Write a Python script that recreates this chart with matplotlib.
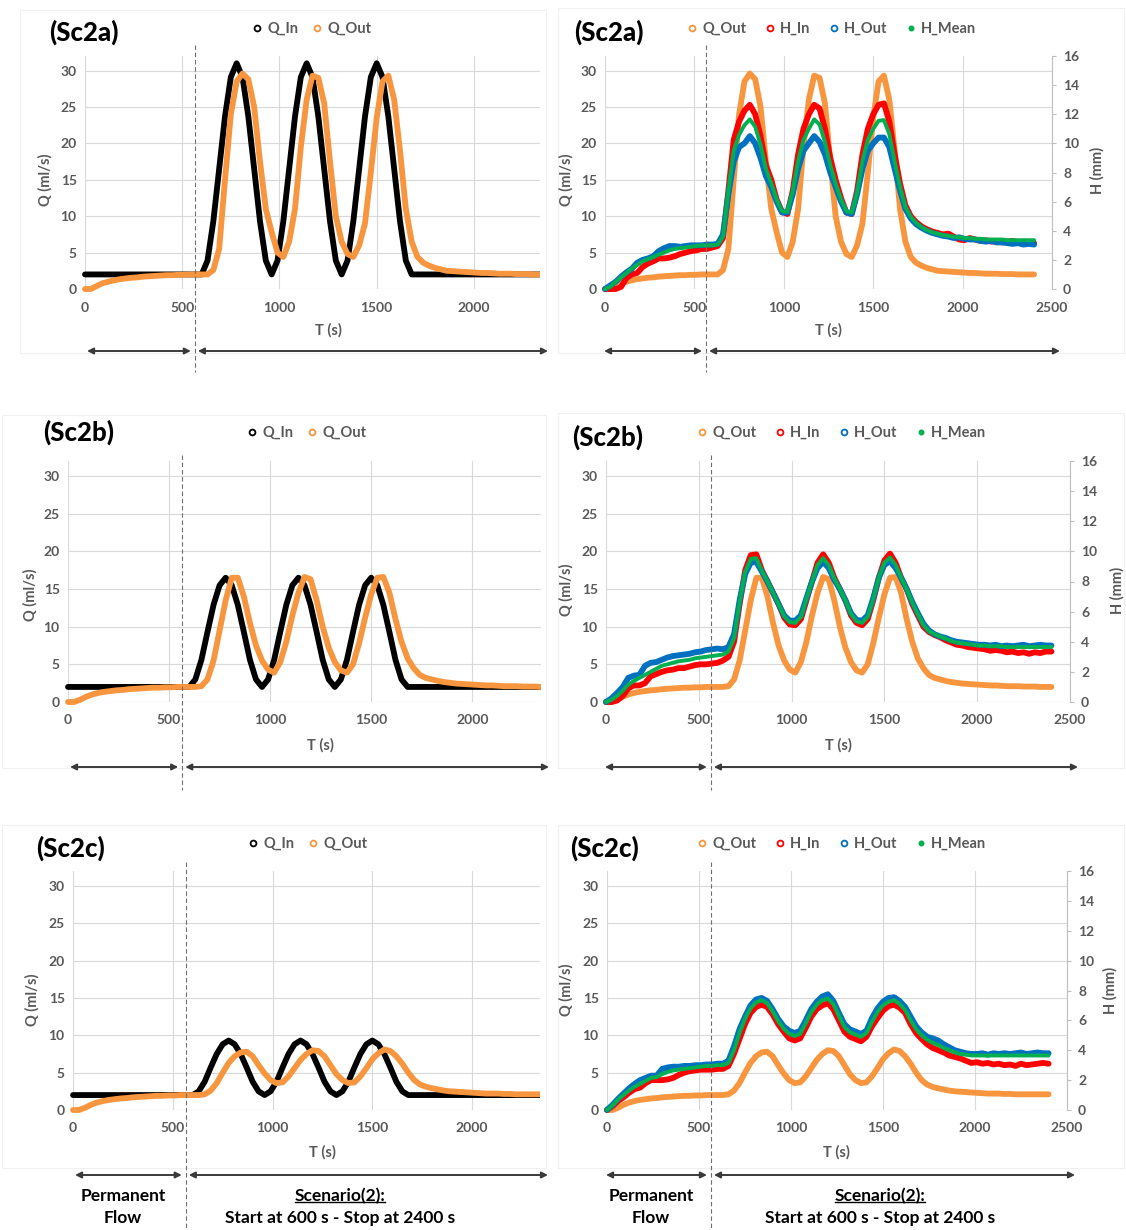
import numpy as np
import matplotlib.pyplot as plt
from matplotlib.lines import Line2D
from matplotlib.patches import Rectangle, FancyArrowPatch
from matplotlib.transforms import Bbox, TransformedBbox

plt.rcParams['font.family'] = ['Lato', 'DejaVu Sans']
plt.rcParams['font.weight'] = 'bold'

W, H = 1126, 1230
GREY = '#595959'
GRID = '#d9d9d9'
C_QIN = 'black'
C_QOUT = '#f7963f'
C_HIN = '#ff0000'
C_HOUT = '#0070c0'
C_HMEAN = '#00b050'

# time of each reading (s), one every 30 s from 0 to 2400
T = np.arange(0, 2401, 30)
DIVIDER_T = 565   # dashed line between permanent flow and scenario

SCENARIOS = ['(Sc2a)', '(Sc2b)', '(Sc2c)']

# ---- inflow Q_In (ml/s) ----
Q_IN_A = [2.0, 2.0, 2.0, 2.0, 2.0, 2.0, 2.0, 2.0, 2.0, 2.0,
          2.0, 2.0, 2.0, 2.0, 2.0, 2.0, 2.0, 2.0, 2.0, 2.0,
          2.0, 3.9, 9.3, 16.5, 23.7, 29.1, 31.0, 29.1, 23.7, 16.5,
          9.3, 3.9, 2.0, 3.9, 9.3, 16.5, 23.7, 29.1, 31.0, 29.1,
          23.7, 16.5, 9.3, 3.9, 2.0, 3.9, 9.3, 16.5, 23.7, 29.1,
          31.0, 29.1, 23.7, 16.5, 9.3, 3.9, 2.0, 2.0, 2.0, 2.0,
          2.0, 2.0, 2.0, 2.0, 2.0, 2.0, 2.0, 2.0, 2.0, 2.0,
          2.0, 2.0, 2.0, 2.0, 2.0, 2.0, 2.0, 2.0, 2.0, 2.0,
          2.0]
Q_IN_B = [2.0, 2.0, 2.0, 2.0, 2.0, 2.0, 2.0, 2.0, 2.0, 2.0,
          2.0, 2.0, 2.0, 2.0, 2.0, 2.0, 2.0, 2.0, 2.0, 2.0,
          2.0, 3.0, 5.6, 9.3, 12.9, 15.5, 16.5, 15.5, 12.9, 9.3,
          5.6, 3.0, 2.0, 3.0, 5.6, 9.3, 12.9, 15.5, 16.5, 15.5,
          12.9, 9.3, 5.6, 3.0, 2.0, 3.0, 5.6, 9.3, 12.9, 15.5,
          16.5, 15.5, 12.9, 9.3, 5.6, 3.0, 2.0, 2.0, 2.0, 2.0,
          2.0, 2.0, 2.0, 2.0, 2.0, 2.0, 2.0, 2.0, 2.0, 2.0,
          2.0, 2.0, 2.0, 2.0, 2.0, 2.0, 2.0, 2.0, 2.0, 2.0,
          2.0]
Q_IN_C = [2.0, 2.0, 2.0, 2.0, 2.0, 2.0, 2.0, 2.0, 2.0, 2.0,
          2.0, 2.0, 2.0, 2.0, 2.0, 2.0, 2.0, 2.0, 2.0, 2.0,
          2.0, 2.5, 3.8, 5.7, 7.5, 8.8, 9.3, 8.8, 7.5, 5.7,
          3.8, 2.5, 2.0, 2.5, 3.8, 5.7, 7.5, 8.8, 9.3, 8.8,
          7.5, 5.7, 3.8, 2.5, 2.0, 2.5, 3.8, 5.7, 7.5, 8.8,
          9.3, 8.8, 7.5, 5.7, 3.8, 2.5, 2.0, 2.0, 2.0, 2.0,
          2.0, 2.0, 2.0, 2.0, 2.0, 2.0, 2.0, 2.0, 2.0, 2.0,
          2.0, 2.0, 2.0, 2.0, 2.0, 2.0, 2.0, 2.0, 2.0, 2.0,
          2.0]

# ---- outflow Q_Out (ml/s) ----
Q_OUT_A = [0.0, 0.0, 0.4, 0.8, 1.0, 1.2, 1.35, 1.45, 1.55, 1.6,
           1.7, 1.75, 1.8, 1.85, 1.9, 1.9, 1.95, 1.95, 2.0, 2.0,
           2.0, 2.0, 2.6, 5.5, 15.0, 24.0, 28.5, 29.6, 28.8, 25.0,
           17.5, 11.0, 7.8, 5.0, 4.4, 6.5, 11.0, 19.5, 26.0, 29.3,
           29.0, 25.5, 17.5, 10.0, 6.5, 4.8, 4.4, 6.0, 9.0, 16.0,
           23.5, 28.5, 29.3, 26.0, 19.0, 11.0, 6.5, 4.4, 3.6, 3.2,
           2.9, 2.7, 2.5, 2.45, 2.4, 2.35, 2.3, 2.25, 2.2, 2.2,
           2.15, 2.1, 2.1, 2.1, 2.05, 2.05, 2.05, 2.0, 2.0, 2.0,
           2.0]
Q_OUT_B = [0.0, 0.0, 0.3, 0.7, 1.0, 1.2, 1.35, 1.45, 1.55, 1.6,
           1.7, 1.75, 1.8, 1.85, 1.9, 1.9, 1.95, 1.95, 2.0, 2.0,
           2.0, 2.0, 2.1, 3.0, 5.5, 9.5, 13.5, 16.5, 16.5, 14.0,
           10.5, 7.5, 5.5, 4.3, 3.9, 5.3, 8.0, 11.5, 14.5, 16.6,
           16.3, 13.5, 10.0, 7.2, 5.3, 4.2, 3.9, 5.0, 7.8, 11.2,
           14.3, 16.5, 16.6, 14.5, 11.0, 8.0, 5.8, 4.5, 3.6, 3.2,
           3.0, 2.8, 2.65, 2.55, 2.45, 2.4, 2.35, 2.3, 2.25, 2.2,
           2.2, 2.15, 2.1, 2.1, 2.1, 2.05, 2.05, 2.05, 2.0, 2.0,
           2.0]
Q_OUT_C = [0.0, 0.0, 0.3, 0.7, 1.0, 1.2, 1.35, 1.45, 1.55, 1.6,
           1.7, 1.75, 1.8, 1.85, 1.9, 1.9, 1.95, 1.95, 2.0, 2.0,
           2.0, 2.0, 2.1, 2.6, 3.6, 5.0, 6.3, 7.2, 7.7, 7.8,
           7.2, 6.0, 4.9, 4.0, 3.6, 3.7, 4.5, 5.6, 6.7, 7.5,
           8.0, 7.9, 7.2, 6.0, 4.8, 4.0, 3.6, 3.7, 4.5, 5.6,
           6.8, 7.6, 8.1, 7.9, 7.2, 6.2, 5.0, 4.0, 3.4, 3.1,
           2.9, 2.75, 2.6, 2.5, 2.45, 2.4, 2.35, 2.3, 2.25, 2.2,
           2.2, 2.2, 2.15, 2.15, 2.1, 2.1, 2.1, 2.1, 2.1, 2.1,
           2.1]

# ---- water depth H (mm) ----
H_IN_A = [0.0, 0.0, 0.0, 0.15, 0.75, 1.0, 1.1, 1.5, 1.75, 1.9,
          2.1, 2.1, 2.15, 2.25, 2.4, 2.5, 2.6, 2.65, 2.75, 2.75,
          2.85, 2.95, 3.5, 6.75, 10.25, 11.5, 12.25, 12.65, 12.0, 10.5,
          8.5, 7.5, 6.15, 5.3, 5.15, 6.75, 9.25, 11.0, 12.0, 12.65,
          12.4, 11.0, 9.0, 7.5, 6.25, 5.25, 5.15, 6.75, 9.25, 11.0,
          12.0, 12.65, 12.75, 11.5, 9.25, 7.25, 5.75, 5.0, 4.6, 4.3,
          4.1, 3.95, 3.85, 3.75, 3.8, 3.6, 3.4, 3.35, 3.5, 3.4,
          3.3, 3.35, 3.25, 3.3, 3.2, 3.25, 3.3, 3.2, 3.25, 3.2,
          3.15]
H_OUT_A = [0.0, 0.25, 0.5, 0.85, 1.15, 1.4, 1.8, 2.0, 2.1, 2.25,
           2.6, 2.8, 2.95, 2.95, 2.9, 2.95, 3.0, 3.0, 3.0, 3.05,
           3.05, 3.1, 3.75, 6.5, 8.75, 9.75, 10.0, 10.5, 10.0, 9.0,
           7.75, 7.0, 6.0, 5.25, 5.25, 6.5, 8.25, 9.5, 10.0, 10.5,
           10.1, 9.25, 8.0, 7.0, 6.0, 5.25, 5.15, 6.5, 8.25, 9.5,
           10.0, 10.4, 10.4, 9.75, 8.25, 6.75, 5.5, 4.85, 4.45, 4.2,
           4.0, 3.85, 3.75, 3.65, 3.6, 3.5, 3.55, 3.45, 3.4, 3.4,
           3.3, 3.25, 3.3, 3.2, 3.2, 3.15, 3.1, 3.15, 3.05, 3.1,
           3.05]
H_MEAN_A = [0.0, 0.15, 0.5, 0.8, 1.1, 1.4, 1.65, 1.9, 2.05, 2.2,
            2.35, 2.5, 2.65, 2.75, 2.8, 2.85, 2.9, 2.95, 3.0, 3.0,
            3.0, 3.05, 3.6, 6.75, 9.5, 10.6, 11.25, 11.65, 11.15, 9.9,
            8.25, 7.25, 6.15, 5.35, 5.3, 6.75, 8.8, 10.25, 11.0, 11.65,
            11.3, 10.1, 8.5, 7.25, 6.15, 5.35, 5.25, 6.6, 8.8, 10.25,
            11.0, 11.55, 11.6, 10.65, 8.75, 7.0, 5.65, 4.95, 4.55, 4.25,
            4.05, 3.9, 3.8, 3.7, 3.65, 3.6, 3.55, 3.5, 3.5, 3.45,
            3.45, 3.4, 3.4, 3.4, 3.4, 3.35, 3.35, 3.35, 3.35, 3.35,
            3.35]

H_IN_B = [0.0, 0.0, 0.1, 0.4, 0.9, 1.1, 1.1, 1.25, 1.7, 1.85,
          2.0, 2.1, 2.15, 2.25, 2.25, 2.35, 2.45, 2.5, 2.5, 2.55,
          2.6, 2.75, 3.0, 4.0, 6.5, 8.75, 9.75, 9.8, 8.75, 8.0,
          7.25, 6.5, 5.6, 5.15, 5.1, 5.5, 6.75, 8.0, 9.25, 9.8,
          9.25, 8.25, 7.5, 6.75, 5.75, 5.25, 5.1, 5.5, 6.75, 8.25,
          9.4, 9.85, 9.25, 8.25, 7.5, 6.5, 5.75, 5.0, 4.65, 4.45,
          4.3, 4.1, 3.95, 3.8, 3.75, 3.65, 3.6, 3.55, 3.5, 3.4,
          3.45, 3.4, 3.3, 3.35, 3.25, 3.3, 3.2, 3.3, 3.25, 3.35,
          3.35]
H_OUT_B = [0.0, 0.25, 0.6, 1.0, 1.6, 1.75, 1.8, 2.4, 2.6, 2.65,
           2.8, 2.95, 3.05, 3.1, 3.15, 3.2, 3.3, 3.35, 3.45, 3.5,
           3.55, 3.5, 3.65, 4.5, 6.75, 8.5, 9.25, 9.3, 8.65, 8.0,
           7.25, 6.5, 5.75, 5.4, 5.4, 5.75, 6.9, 8.0, 8.9, 9.3,
           8.9, 8.1, 7.5, 6.75, 5.9, 5.45, 5.4, 5.75, 6.9, 8.25,
           9.1, 9.35, 8.9, 8.25, 7.5, 6.65, 5.9, 5.2, 4.75, 4.5,
           4.35, 4.25, 4.1, 4.0, 3.95, 3.9, 3.85, 3.8, 3.8, 3.75,
           3.8, 3.7, 3.75, 3.7, 3.75, 3.8, 3.7, 3.75, 3.8, 3.75,
           3.75]
H_MEAN_B = [0.0, 0.15, 0.4, 0.75, 1.15, 1.4, 1.6, 1.8, 2.0, 2.2,
            2.4, 2.5, 2.6, 2.7, 2.75, 2.8, 2.9, 2.95, 3.0, 3.05,
            3.1, 3.15, 3.35, 4.25, 6.65, 8.65, 9.5, 9.55, 8.7, 8.0,
            7.25, 6.5, 5.7, 5.3, 5.25, 5.65, 6.85, 8.0, 9.1, 9.55,
            9.1, 8.2, 7.5, 6.75, 5.85, 5.35, 5.25, 5.65, 6.85, 8.25,
            9.25, 9.6, 9.1, 8.25, 7.5, 6.6, 5.85, 5.1, 4.7, 4.5,
            4.35, 4.2, 4.05, 3.95, 3.9, 3.85, 3.8, 3.75, 3.75, 3.7,
            3.7, 3.7, 3.65, 3.65, 3.65, 3.65, 3.65, 3.65, 3.65, 3.65,
            3.65]

H_IN_C = [0.0, 0.25, 0.6, 0.85, 1.15, 1.4, 1.5, 1.8, 2.0, 2.0,
          2.0, 2.05, 2.15, 2.35, 2.5, 2.6, 2.65, 2.7, 2.7, 2.7,
          2.75, 2.75, 2.95, 3.75, 4.75, 5.75, 6.5, 6.9, 7.05, 6.9,
          6.4, 5.75, 5.25, 4.8, 4.65, 4.8, 5.5, 6.25, 6.75, 7.0,
          7.15, 6.75, 6.0, 5.25, 4.9, 4.75, 4.6, 4.9, 5.6, 6.15,
          6.65, 6.95, 7.05, 6.85, 6.5, 5.75, 5.15, 4.75, 4.4, 4.15,
          4.0, 3.85, 3.65, 3.55, 3.45, 3.3, 3.15, 3.2, 3.1, 3.15,
          3.05, 3.1, 3.0, 3.05, 2.95, 3.1, 3.0, 3.05, 3.1, 3.15,
          3.1]
H_OUT_C = [0.0, 0.35, 0.75, 1.1, 1.45, 1.75, 2.0, 2.15, 2.3, 2.3,
           2.75, 2.85, 2.9, 2.9, 2.95, 2.95, 3.0, 3.0, 3.05, 3.05,
           3.1, 3.1, 3.3, 4.25, 5.4, 6.25, 7.0, 7.4, 7.5, 7.3,
           6.75, 6.1, 5.6, 5.3, 5.15, 5.3, 6.0, 6.75, 7.25, 7.6,
           7.75, 7.3, 6.5, 5.75, 5.4, 5.25, 5.1, 5.3, 6.15, 6.8,
           7.25, 7.5, 7.55, 7.3, 6.9, 6.25, 5.6, 5.2, 4.9, 4.8,
           4.65, 4.4, 4.2, 4.0, 3.9, 3.8, 3.75, 3.75, 3.8, 3.7,
           3.8, 3.75, 3.8, 3.75, 3.8, 3.85, 3.75, 3.8, 3.85, 3.8,
           3.8]
H_MEAN_C = [0.0, 0.3, 0.7, 1.0, 1.3, 1.55, 1.75, 1.95, 2.15, 2.2,
            2.4, 2.55, 2.65, 2.7, 2.75, 2.8, 2.85, 2.9, 2.95, 2.95,
            3.0, 3.0, 3.15, 4.0, 5.15, 6.1, 6.8, 7.2, 7.35, 7.15,
            6.6, 5.95, 5.45, 5.1, 4.95, 5.1, 5.8, 6.55, 7.05, 7.35,
            7.45, 7.1, 6.3, 5.55, 5.2, 5.05, 4.9, 5.15, 5.9, 6.55,
            7.0, 7.25, 7.35, 7.1, 6.7, 6.0, 5.4, 5.0, 4.7, 4.5,
            4.35, 4.15, 4.0, 3.85, 3.75, 3.7, 3.65, 3.65, 3.65, 3.65,
            3.65, 3.65, 3.65, 3.65, 3.65, 3.65, 3.65, 3.65, 3.65, 3.65,
            3.65]

Q_IN = [Q_IN_A, Q_IN_B, Q_IN_C]
Q_OUT = [Q_OUT_A, Q_OUT_B, Q_OUT_C]
H_IN = [H_IN_A, H_IN_B, H_IN_C]
H_OUT = [H_OUT_A, H_OUT_B, H_OUT_C]
H_MEAN = [H_MEAN_A, H_MEAN_B, H_MEAN_C]

# ---- layout, in pixels of the 1126x1230 picture ----
L_BOX = [(85, 56, 540, 289), (68, 461, 541, 702), (73, 871, 540, 1110)]
R_BOX = [(605, 56, 1052, 289), (606, 461, 1070, 702), (607, 871, 1067, 1110)]
TITLE_L = [(49, 32), (43, 432), (36, 848)]
TITLE_R = [(574, 32), (572, 437), (570, 848)]
LEG_L = [(312, 29), (307, 433), (308, 844)]
LEG_R = [(832, 29), (842, 433), (842, 844)]
QLAB_L = [(45, 180), (30, 595), (32, 1000)]
QLAB_R = [(566, 180), (566, 590), (566, 990)]
HLAB = [(1097, 170), (1117, 590), (1110, 990)]
TLAB_L = [(328, 330), (320, 745), (322, 1152)]
TLAB_R = [(828, 330), (838, 745), (836, 1152)]
ARROW_Y = [351, 767, 1175]
DIV_SPAN = [(45, 372), (455, 790), (862, 1230)]
FRAME_L = [(20, 10, 546, 353), (2, 415, 546, 768), (2, 825, 546, 1168)]
FRAME_R = [(558, 8, 1124, 353), (558, 413, 1124, 768), (558, 825, 1124, 1168)]

TICK_FS = 10
LABEL_FS = 10.5


def fx(x):
    return x / W


def fy(y):
    return 1 - y / H


fig = plt.figure(figsize=(W / 100, H / 100), dpi=100)


def px_axes(box):
    x0, y0, x1, y1 = box
    return fig.add_axes([fx(x0), fy(y1), (x1 - x0) / W, (y1 - y0) / H])


def style_q_axis(ax, xmax, xticks):
    ax.set_xlim(0, xmax)
    ax.set_ylim(0, 32)
    ax.set_xticks(xticks)
    ax.set_yticks(range(0, 31, 5))
    ax.grid(True, color=GRID, lw=0.8)
    ax.set_axisbelow(True)
    for s in ax.spines.values():
        s.set_visible(False)
    ax.tick_params(axis='x', length=0, pad=9, labelsize=TICK_FS, labelcolor=GREY)
    ax.tick_params(axis='y', length=0, pad=6, labelsize=TICK_FS, labelcolor=GREY)


def draw(ax, y, color, lw):
    ln, = ax.plot(T, y, color=color, lw=lw, solid_joinstyle='round',
                  solid_capstyle='round')
    # let the thick line spill a little below 0, but stop at the right edge
    ln.set_clip_path(None)
    ln.set_clip_box(TransformedBbox(Bbox([[-0.02, -0.04], [1.0, 1.04]]), ax.transAxes))
    return ln


def handle(color, filled=False, ms=4.2):
    return Line2D([], [], ls='none', marker='o', ms=ms, mew=1.3, mec=color,
                  mfc=color if filled else 'white')


def divider(ax, span):
    xd = fig.transFigure.inverted().transform(ax.transData.transform((DIVIDER_T, 0)))[0]
    fig.add_artist(Line2D([xd, xd], [fy(span[0]), fy(span[1])], transform=fig.transFigure,
                          color='#6f6f6f', lw=0.8, ls=(0, (4, 2.5))))
    return xd * W


def arrow(x0, x1, y):
    fig.add_artist(FancyArrowPatch((fx(x0), fy(y)), (fx(x1), fy(y)), transform=fig.transFigure,
                                   arrowstyle='<|-|>', mutation_scale=9, shrinkA=0, shrinkB=0,
                                   color='#3a3a3a', lw=1.4))


for i in range(3):
    # faint borders of the chart images
    for fr in (FRAME_L[i], FRAME_R[i]):
        fig.add_artist(Rectangle((fx(fr[0]), fy(fr[3])), (fr[2] - fr[0]) / W, (fr[3] - fr[1]) / H,
                                 transform=fig.transFigure, fill=False, ec='#f0f0f0', lw=0.8))

    # ---- left: inflow vs outflow ----
    ax = px_axes(L_BOX[i])
    style_q_axis(ax, 2340, [0, 500, 1000, 1500, 2000])
    draw(ax, Q_IN[i], C_QIN, 4.2)
    draw(ax, Q_OUT[i], C_QOUT, 4.2)
    fig.text(fx(TITLE_L[i][0]), fy(TITLE_L[i][1]), SCENARIOS[i], fontsize=18.5,
             fontweight='black', ha='left', va='center', color='black')
    fig.legend([handle(C_QIN), handle(C_QOUT)], ['Q_In', 'Q_Out'], loc='center',
               bbox_to_anchor=(fx(LEG_L[i][0]), fy(LEG_L[i][1])), ncol=2, frameon=False,
               fontsize=10.5, labelcolor=GREY, handlelength=0.6, handletextpad=0.4,
               columnspacing=1.0)
    fig.text(fx(QLAB_L[i][0]), fy(QLAB_L[i][1]), 'Q (ml/s)', rotation=90, fontsize=LABEL_FS,
             ha='center', va='center', color=GREY)
    fig.text(fx(TLAB_L[i][0]), fy(TLAB_L[i][1]), 'T (s)', fontsize=LABEL_FS,
             ha='center', va='center', color=GREY)
    xd = divider(ax, DIV_SPAN[i])
    arrow(L_BOX[i][0] + 2, xd - 4, ARROW_Y[i])
    arrow(xd + 3, L_BOX[i][2] + 8, ARROW_Y[i])

    # ---- right: outflow and water depths ----
    ax = px_axes(R_BOX[i])
    style_q_axis(ax, 2500, [0, 500, 1000, 1500, 2000, 2500])
    draw(ax, Q_OUT[i], C_QOUT, 4.2)
    ax2 = ax.twinx()
    ax2.set_ylim(0, 16)
    ax2.set_yticks(range(0, 17, 2))
    for side, s in ax2.spines.items():
        s.set_visible(side == 'right')
    ax2.spines['right'].set_color('#bfbfbf')
    ax2.spines['right'].set_linewidth(0.8)
    ax2.tick_params(axis='y', length=3, width=0.8, color='#bfbfbf', pad=5,
                    labelsize=TICK_FS, labelcolor=GREY)
    draw(ax2, H_IN[i], C_HIN, 4.2)
    draw(ax2, H_OUT[i], C_HOUT, 4.2)
    draw(ax2, H_MEAN[i], C_HMEAN, 2.8)
    fig.text(fx(TITLE_R[i][0]), fy(TITLE_R[i][1]), SCENARIOS[i], fontsize=18.5,
             fontweight='black', ha='left', va='center', color='black')
    fig.legend([handle(C_QOUT), handle(C_HIN), handle(C_HOUT), handle(C_HMEAN, True, 3.0)],
               ['Q_Out', 'H_In', 'H_Out', 'H_Mean'], loc='center',
               bbox_to_anchor=(fx(LEG_R[i][0]), fy(LEG_R[i][1])), ncol=4, frameon=False,
               fontsize=10.5, labelcolor=GREY, handlelength=0.6, handletextpad=0.4,
               columnspacing=1.3)
    fig.text(fx(QLAB_R[i][0]), fy(QLAB_R[i][1]), 'Q (ml/s)', rotation=90, fontsize=LABEL_FS,
             ha='center', va='center', color=GREY)
    fig.text(fx(HLAB[i][0]), fy(HLAB[i][1]), 'H (mm)', rotation=90, fontsize=LABEL_FS,
             ha='center', va='center', color=GREY)
    fig.text(fx(TLAB_R[i][0]), fy(TLAB_R[i][1]), 'T (s)', fontsize=LABEL_FS,
             ha='center', va='center', color=GREY)
    xd = divider(ax, DIV_SPAN[i])
    arrow(R_BOX[i][0] - 1, xd - 4, ARROW_Y[i])
    arrow(xd + 3, R_BOX[i][2] + 8, ARROW_Y[i])

# ---- phase captions under the bottom row ----
heads = []
for xc_perm, xc_scen in [(123, 340), (651, 880)]:
    fig.text(fx(xc_perm), fy(1196), 'Permanent', fontsize=12.5, ha='center', va='center')
    fig.text(fx(xc_perm), fy(1218), 'Flow', fontsize=12.5, ha='center', va='center')
    heads.append(fig.text(fx(xc_scen), fy(1196), 'Scenario(2):', fontsize=12.5,
                          ha='center', va='center'))
    fig.text(fx(xc_scen), fy(1218), 'Start at 600 s - Stop at 2400 s', fontsize=12.5,
             ha='center', va='center')

renderer = fig.canvas.get_renderer()
for t in heads:
    bb = t.get_window_extent(renderer)
    yline = (bb.y0 + 2.5) / H
    fig.add_artist(Line2D([bb.x0 / W, bb.x1 / W], [yline, yline], transform=fig.transFigure,
                          color='black', lw=1.0))

fig.savefig('out.png', dpi=100, facecolor='white')
